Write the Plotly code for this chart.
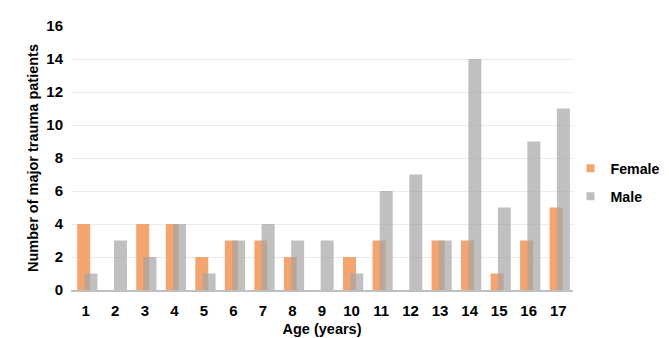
import plotly.graph_objects as go

ages = list(range(1, 18))
age_labels = [str(a) for a in ages]
female = [4, 0, 4, 4, 2, 3, 3, 2, 0, 2, 3, 0, 3, 3, 1, 3, 5]
male = [1, 3, 2, 4, 1, 3, 4, 3, 3, 1, 6, 7, 3, 14, 5, 9, 11]
y_ticks = [0, 2, 4, 6, 8, 10, 12, 14, 16]

female_color = "#F3A46F"
male_color = "rgba(165,165,165,0.7)"

fig = go.Figure()
fig.add_trace(go.Bar(
    x=ages, y=female, name="Female",
    marker=dict(color=female_color, line=dict(width=0)),
    width=0.44, offset=-0.29, showlegend=False,
))
fig.add_trace(go.Bar(
    x=ages, y=male, name="Male",
    marker=dict(color=male_color, line=dict(width=0)),
    width=0.44, offset=-0.045, showlegend=False,
))
# legend entries with small square keys
fig.add_trace(go.Scatter(
    x=[None], y=[None], mode="markers", name="Female", legendgroup="f",
    marker=dict(symbol="square", size=8, color=female_color),
))
fig.add_trace(go.Scatter(
    x=[None], y=[None], mode="markers", name="Male", legendgroup="m",
    marker=dict(symbol="square", size=8, color="#BFBFBF"),
))

font_family = "Liberation Sans, Arial, sans-serif"
fig.update_layout(
    width=669, height=338,
    barmode="overlay",
    plot_bgcolor="white", paper_bgcolor="white",
    margin=dict(l=63, r=92, t=18, b=56),
    font=dict(family=font_family, size=15, color="#000000"),
    showlegend=True,
    legend=dict(
        x=0.995, y=0.407, xanchor="left", yanchor="middle",
        font=dict(size=14.2, family=font_family, color="#000000", weight="bold"),
        tracegroupgap=6.5, bgcolor="rgba(0,0,0,0)", itemwidth=30,
    ),
    xaxis=dict(
        range=[0.5, 17.5], tickmode="array", tickvals=ages, ticktext=age_labels,
        showgrid=False, zeroline=False, showline=True, linecolor="#BFBFBF", linewidth=1.5,
        ticks="", tickfont=dict(size=15, weight="bold"), automargin=False,
        ticklabelstandoff=6,
        title=dict(text="<b>Age (years)</b>", font=dict(size=14.5), standoff=6),
    ),
    yaxis=dict(
        range=[0, 16], tickmode="array", tickvals=y_ticks,
        showgrid=True, gridcolor="#EBEBEB", gridwidth=1, zeroline=False,
        showline=False, ticks="", tickfont=dict(size=15, weight="bold"), automargin=False,
        ticklabelstandoff=7,
        title=dict(text="<b>Number of major trauma patients</b>", font=dict(size=14.5), standoff=4),
    ),
)

fig.write_html("out.html")
